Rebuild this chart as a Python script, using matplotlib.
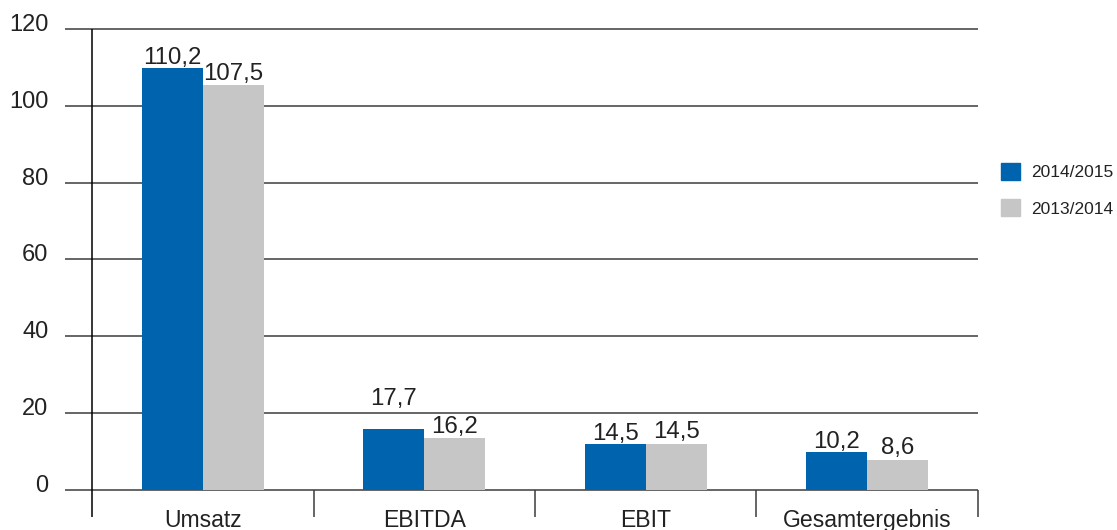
import matplotlib
matplotlib.use("Agg")
import matplotlib.pyplot as plt
import matplotlib.transforms as mtransforms
from matplotlib.patches import Patch

# ---------------- data ----------------
categories = ["Umsatz", "EBITDA", "EBIT", "Gesamtergebnis"]
series_names = ["2014/2015", "2013/2014"]
# bar heights as drawn in the reference
bars_2015 = [109.9, 15.9, 12.0, 9.9]
bars_2014 = [105.4, 13.5, 12.0, 7.8]
# value labels as printed
labels_2015 = ["110,2", "17,7", "14,5", "10,2"]
labels_2014 = ["107,5", "16,2", "14,5", "8,6"]
yticks = [0, 20, 40, 60, 80, 100, 120]

blue = "#0063ae"
grey = "#c6c6c6"
line_col = "#3c3c3c"
txt_col = "#222222"

plt.rcParams['font.family'] = ['Liberation Sans', 'DejaVu Sans']

fig = plt.figure(figsize=(11.17, 5.30), dpi=100)
ax = fig.add_axes([65/1117, 1 - 520.7/530, (982.4 - 65)/1117, (520.7 - 21.3)/530])
ax.set_xlim(-0.622, 3.52)
ax.set_ylim(-8, 122)

for s in ax.spines.values():
    s.set_visible(False)

# horizontal grid lines
ax.hlines(yticks, -0.622, 3.5, color=line_col, lw=1.1, zorder=1)
# left axis + category separators
ax.vlines([-0.5], -7, 120, color="black", lw=1.1, zorder=3)
ax.vlines([0.5, 1.5, 2.5, 3.5], -7, 0, color=line_col, lw=1.1, zorder=3)

w = 0.2755
x = list(range(len(categories)))
ax.bar([i - w/2 for i in x], bars_2015, width=w, color=blue, zorder=2)
ax.bar([i + w/2 for i in x], bars_2014, width=w, color=grey, zorder=2)

# value labels
for i in x:
    extra = 14 if i == 1 else 0
    ax.annotate(labels_2015[i], (i - w/2, bars_2015[i]), xytext=(0, 3 + extra),
                textcoords="offset points", ha="center", va="baseline",
                fontsize=17.3, color=txt_col)
    ax.annotate(labels_2014[i], (i + w/2, bars_2014[i]), xytext=(0, 4),
                textcoords="offset points", ha="center", va="baseline",
                fontsize=17.3, color=txt_col)

# y tick labels
ax.set_yticks(yticks)
ax.set_yticklabels([str(t) for t in yticks], fontsize=17, color=txt_col)
ax.tick_params(axis="y", length=0, pad=12)
for lab in ax.get_yticklabels():
    lab.set_va("baseline")
    lab.set_transform(lab.get_transform() + mtransforms.ScaledTranslation(0, -2/100, fig.dpi_scale_trans))
ax.set_xticks([])

# category labels
trans = mtransforms.blended_transform_factory(ax.transData, fig.transFigure)
for i, c in enumerate(categories):
    ax.text(i, 1 - 527/530, c, transform=trans, ha="center", va="baseline",
            fontsize=16.6, color=txt_col, clip_on=False)

# legend
handles = [Patch(color=blue), Patch(color=grey)]
fig.legend(handles, series_names, loc="upper left",
           bbox_to_anchor=(1001/1117, 1 - 163/530), frameon=False,
           fontsize=12.5, handlelength=1.1, handleheight=1.1,
           handletextpad=0.65, labelspacing=1.1, borderpad=0, borderaxespad=0,
           labelcolor=txt_col)

fig.savefig("out.png", dpi=100)
